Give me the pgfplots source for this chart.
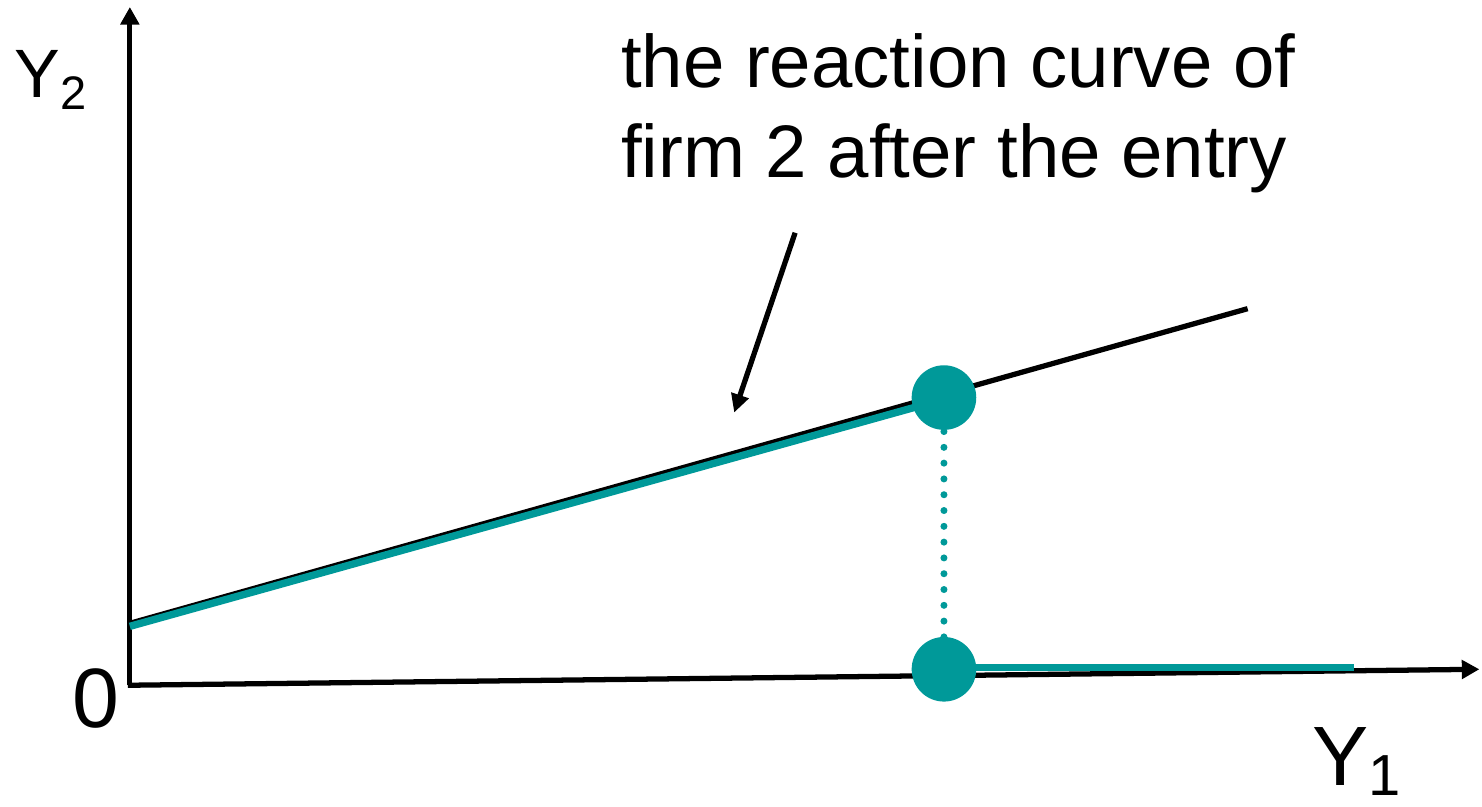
\documentclass[border=0pt]{standalone}
\usepackage{fontspec}
\setmainfont{Liberation Sans}
\usepackage{pgfplots}
\pgfplotsset{compat=1.18}
\usetikzlibrary{arrows.meta}
\definecolor{teal2}{RGB}{0,153,153}
\begin{document}
\begin{tikzpicture}
\begin{axis}[
  width=14.82cm, height=8.07cm, scale only axis,
  xmin=0, xmax=1482, ymin=0, ymax=807, y dir=reverse,
  hide axis, clip=false,
]
\path (axis cs:0,0) rectangle (axis cs:1482,807);
% axes
\addplot[black, line width=1.5pt, -{Triangle[length=5pt,width=5.2pt]}] coordinates {(130,686) (130,7)};
\addplot[black, line width=1.5pt, -{Triangle[length=5pt,width=5.2pt]}] coordinates {(128,686) (1481,670)};
% reaction curve (black)
\addplot[black, line width=1.5pt] coordinates {(130,624) (1249,309)};
% teal reaction after entry
\addplot[teal2, line width=2.1pt] coordinates {(130,627) (940,401)};
\addplot[teal2, line width=2.1pt] coordinates {(945,668) (1355,668)};
% dotted vertical
\addplot[teal2, line width=2pt, dash pattern=on 0pt off 4.5pt, line cap=round] coordinates {(945,432) (945,640)};
% dots
\addplot[only marks, mark=*, mark size=9pt, teal2, mark options={draw=teal2, fill=teal2}] coordinates {(945,398) (945,670)};
% annotation arrow
\addplot[black, line width=1.5pt, -{Triangle[length=5.2pt,width=5pt]}] coordinates {(796,233) (735,413)};
% labels
\node[anchor=base west, inner sep=0pt, font=\fontsize{21.2pt}{25.6pt}\selectfont] at (axis cs:621,88) {the reaction curve of};
\node[anchor=base west, inner sep=0pt, font=\fontsize{21.2pt}{25.6pt}\selectfont] at (axis cs:621,178) {firm 2 after the entry};
\node[anchor=base west, inner sep=0pt, font=\fontsize{19.5pt}{22pt}\selectfont] at (axis cs:14,98) {Y\raisebox{-3.3pt}{\fontsize{13.4pt}{15pt}\selectfont 2}};
\node[anchor=base west, inner sep=0pt, font=\fontsize{24pt}{28pt}\selectfont] at (axis cs:1313,786) {Y\raisebox{-3pt}{\fontsize{16.5pt}{19pt}\selectfont 1}};
\node[anchor=base west, inner sep=0pt, font=\fontsize{24pt}{28pt}\selectfont] at (axis cs:72,728) {0};
\end{axis}
\end{tikzpicture}
\end{document}
